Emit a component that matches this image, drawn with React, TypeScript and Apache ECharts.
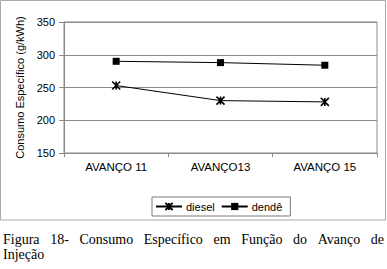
import React, { useEffect, useRef } from "react";
import * as echarts from "echarts";

const categories = ["AVANÇO 11", "AVANÇO13", "AVANÇO 15"];
const dieselValues = [253, 230, 228];
const dendeValues = [290, 288, 284];
const seriesNames = ["diesel", "dendê"];
const yTitle = "Consumo Específico (g/kWh)";
const captionLine1 = ["Figura", "18-", "Consumo", "Específico", "em", "Função", "do", "Avanço", "de"];
const captionLine2 = "Injeção";

const W = 387;
const H = 269;
const GRAY = "#8a8a8a";
const CAPTION_FONT = '14px "Liberation Serif", "Times New Roman", serif';
const SANS = '"Liberation Sans", Arial, sans-serif';

function justifiedWords(words: string[], left: number, right: number) {
  const canvas = document.createElement("canvas");
  const ctx = canvas.getContext("2d")!;
  ctx.font = CAPTION_FONT;
  const widths = words.map((w) => ctx.measureText(w).width);
  const total = widths.reduce((a, b) => a + b, 0);
  const gap = (right - left - total) / (words.length - 1);
  const xs: number[] = [];
  let x = left;
  widths.forEach((wd) => {
    xs.push(x);
    x += wd + gap;
  });
  return xs;
}

export default function App() {
  const ref = useRef<HTMLDivElement>(null);
  useEffect(() => {
    if (!ref.current) return;
    const chart = echarts.init(ref.current, null, { renderer: "svg", width: W, height: H });
    const xs = justifiedWords(captionLine1, 3, 384);
    const starPath = "path://M0,0L8,8M8,0L0,8M4,0L4,8";
    const option: any = {
      animation: false,
      backgroundColor: "#ffffff",
      textStyle: { fontFamily: SANS, color: "#000" },
      grid: {
        left: 64,
        top: 22,
        right: 10,
        bottom: 116,
        show: true,
        borderColor: GRAY,
        borderWidth: 1,
        containLabel: false,
      },
      legend: {
        left: 152,
        top: 197,
        orient: "horizontal",
        padding: [4, 8, 4, 3],
        itemGap: 6,
        itemWidth: 26,
        itemHeight: 9,
        borderColor: "#7a7a7a",
        borderWidth: 1,
        textStyle: { fontSize: 11, color: "#000", fontFamily: SANS, padding: [0, 0, 0, -1] },
        data: [{ name: seriesNames[0] }, { name: seriesNames[1] }],
      },
      xAxis: {
        type: "category",
        data: categories,
        boundaryGap: true,
        axisLine: { show: true, lineStyle: { color: GRAY, width: 1 } },
        axisTick: { show: true, length: 4, lineStyle: { color: GRAY } },
        axisLabel: { fontSize: 11.5, color: "#000", margin: 8, fontFamily: SANS },
        splitLine: { show: false },
      },
      yAxis: {
        type: "value",
        min: 150,
        max: 350,
        interval: 50,
        name: yTitle,
        nameLocation: "middle",
        nameRotate: 90,
        nameGap: 28,
        nameTextStyle: { fontSize: 11, color: "#000", fontFamily: SANS },
        axisLine: { show: true, lineStyle: { color: GRAY, width: 1 } },
        axisTick: { show: true, length: 5, lineStyle: { color: GRAY } },
        axisLabel: { fontSize: 11, color: "#000", margin: 9, fontFamily: SANS },
        splitLine: { show: true, lineStyle: { color: GRAY, width: 1 } },
      },
      series: [
        {
          name: seriesNames[0],
          type: "line",
          data: dieselValues,
          symbol: starPath,
          symbolSize: 8,
          showAllSymbol: true,
          lineStyle: { color: "#000", width: 1 },
          itemStyle: { color: "#000", borderColor: "#000", borderWidth: 1.6 },
        },
        {
          name: seriesNames[1],
          type: "line",
          data: dendeValues,
          symbol: "rect",
          symbolSize: 7,
          lineStyle: { color: "#000", width: 1 },
          itemStyle: { color: "#000" },
        },
      ],
      graphic: [
        {
          type: "rect",
          shape: { x: 0.5, y: 0.5, width: 385, height: 219.5 },
          style: { fill: "none", stroke: "#a8a8a8", lineWidth: 1 },
          silent: true,
          z: -1,
        },
        ...captionLine1.map((w, i) => ({
          type: "text",
          x: xs[i],
          y: 239.6,
          style: { text: w, font: CAPTION_FONT, fill: "#000", textAlign: "left", textVerticalAlign: "middle" },
          silent: true,
        })),
        {
          type: "text",
          x: 3,
          y: 254,
          style: { text: captionLine2, font: CAPTION_FONT, fill: "#000", textAlign: "left", textVerticalAlign: "middle" },
          silent: true,
        },
      ],
    };
    chart.setOption(option);
    return () => chart.dispose();
  }, []);
  return (
    <div
      ref={ref}
      style={{ position: "fixed", left: 0, top: 0, width: W, height: H, background: "#fff" }}
    />
  );
}
